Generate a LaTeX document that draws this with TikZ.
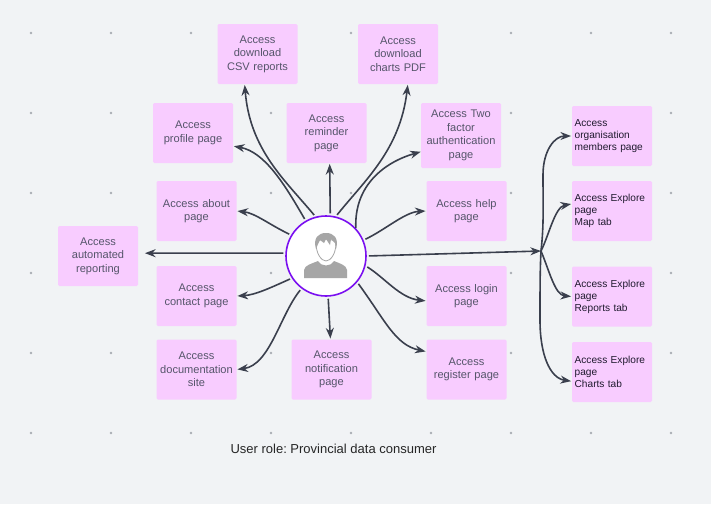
\documentclass[tikz,border=0pt]{standalone}
\usepackage{fontspec}
\setmainfont{Liberation Sans}
\usetikzlibrary{arrows.meta}
\definecolor{bgcol}{HTML}{F1F3F5}
\definecolor{dotcol}{HTML}{A9ADB3}
\definecolor{boxcol}{HTML}{F8CCFF}
\definecolor{linkcol}{HTML}{3A3F4D}
\definecolor{ringcol}{HTML}{7A0FF0}
\definecolor{iconcol}{HTML}{A6A6A6}
\definecolor{pagetext}{HTML}{55556A}
\definecolor{tabtext}{HTML}{1F1A2E}
\tikzset{
    pagebox/.style={fill=boxcol, rounded corners=1pt, minimum width=60pt, minimum height=45pt, inner sep=0pt,
        align=center, text width=58pt, text=pagetext, font=\fontsize{8.3}{10.2}\selectfont},
    tabbox/.style={pagebox, align=left, text width=56pt, text=tabtext, font=\fontsize{7.6}{9}\selectfont},
    link/.style={draw=linkcol, line width=1.2pt, shorten <=1.5pt, shorten >=0.5pt, -{Stealth[length=8pt,width=6pt]}},
}
\begin{document}
\begin{tikzpicture}[x=0.75pt,y=-0.75pt]
    \useasboundingbox (0,0) rectangle (711,504);
    \fill[bgcol] (0,0) rectangle (711,504);
    \foreach \x in {31,111,...,671}
        \foreach \y in {33,113,...,433}
            \fill[dotcol] (\x,\y) circle (1.1pt);

    % pages around the user
    \node[pagebox] (csv) at (257.5,54) {Access\\download\\CSV reports};
    \node[pagebox] (pdf) at (398,54) {Access\\download\\charts PDF};
    \node[pagebox] (profile) at (193,133) {Access\\profile page};
    \node[pagebox] (reminder) at (326.5,133) {Access\\reminder\\page};
    \node[pagebox, minimum height=48.75pt] (twofa) at (461,135.5) {Access Two\\factor\\authentication\\page};
    \node[pagebox] (about) at (196.5,211) {Access about\\page};
    \node[pagebox] (help) at (466.5,211) {Access help\\page};
    \node[pagebox] (auto) at (98,256) {Access\\automated\\reporting};
    \node[pagebox] (contact) at (196.5,296) {Access\\contact page};
    \node[pagebox] (login) at (466.5,296) {Access login\\page};
    \node[pagebox] (doc) at (196.5,369.5) {Access\\documentation\\site};
    \node[pagebox] (notif) at (331.5,369.5) {Access\\notification\\page};
    \node[pagebox] (register) at (466.5,369.5) {Access\\register page};

    % pages on the right
    \node[tabbox] (org) at (612,136) {Access\\organisation\\members page};
    \node[tabbox] (map) at (612,211) {Access Explore\\page\\Map tab};
    \node[tabbox] (reports) at (612,296.5) {Access Explore\\page\\Reports tab};
    \node[tabbox] (charts) at (612,372) {Access Explore\\page\\Charts tab};

    % user
    \node[circle, draw=ringcol, fill=white, line width=1.2pt, minimum size=60pt, inner sep=0pt] (hub) at (326,256) {};
    \fill[iconcol] (304,278) -- (304,270) .. controls (305,265) and (311,264) .. (318,261)
        .. controls (321,267) and (331,267) .. (334,261)
        .. controls (341,264) and (346,265) .. (347,270) -- (347,278) -- cycle;
    \draw[iconcol, fill=white, line width=0.6pt] (316,243) .. controls (316,253) and (321,261) .. (326,261)
        .. controls (331,261) and (336,253) .. (336,243) .. controls (336,238) and (316,238) .. (316,243);
    \fill[iconcol] (316,249) .. controls (313,238) and (318,233) .. (326,233)
        .. controls (334,233) and (339,238) .. (336,249)
        -- (335,243) -- (331,239) -- (330,245) -- (326,239) -- (324,243) -- (320,240) -- (318,244) -- cycle;

    % links
    \draw[link] (hub.105) .. controls (285,180) and (250,150) .. (csv.247);
    \draw[link] (hub.76) .. controls (365,180) and (400,150) .. (pdf.288);
    \draw[link] (hub.120) .. controls (285,185) and (265,152) .. (profile.342);
    \draw[link] (hub.84) -- (reminder.276);
    \draw[link, shorten <=0pt, shorten >=0pt] (hub.43) .. controls (354,185) and (385,162) .. (twofa.202);
    \draw[link] (hub.149) .. controls (270,225) and (255,213) .. (about.east);
    \draw[link] (hub.23) .. controls (385,230) and (405,212) .. (help.west);
    \draw[link, shorten >=5pt] (hub.176) -- (auto.4);
    \draw[link] (hub.213) .. controls (270,288) and (255,295) .. (contact.east);
    \draw[link] (hub.346) .. controls (385,278) and (400,298) .. (login.187);
    \draw[link] (hub.233) .. controls (280,315) and (270,365) .. (doc.east);
    \draw[link] (hub.273) -- (notif.92);
    \draw[link] (hub.320) .. controls (385,320) and (395,345) .. (register.156);

    % fork to the right column
    \coordinate (fork) at (541,251);
    \draw[link, shorten >=0pt] (hub.east) -- (fork);
    \draw[link, shorten <=0pt] (fork) .. controls (544,225) and (543,205) .. (543,175) .. controls (543,150) and (555,136) .. (org.west);
    \draw[link, shorten <=0pt] (fork) .. controls (549,235) and (555,207) .. (map.170);
    \draw[link, shorten <=0pt] (fork) .. controls (549,270) and (555,295) .. (reports.west);
    \draw[link, shorten <=0pt] (fork) .. controls (540,270) and (540,290) .. (540,320) .. controls (540,355) and (550,378) .. (charts.193);

    \node[font=\fontsize{9.75}{12}\selectfont, text=black!85] (caption) at (333.5,448.5) {User role:\ Provincial data consumer};
\end{tikzpicture}
\end{document}
